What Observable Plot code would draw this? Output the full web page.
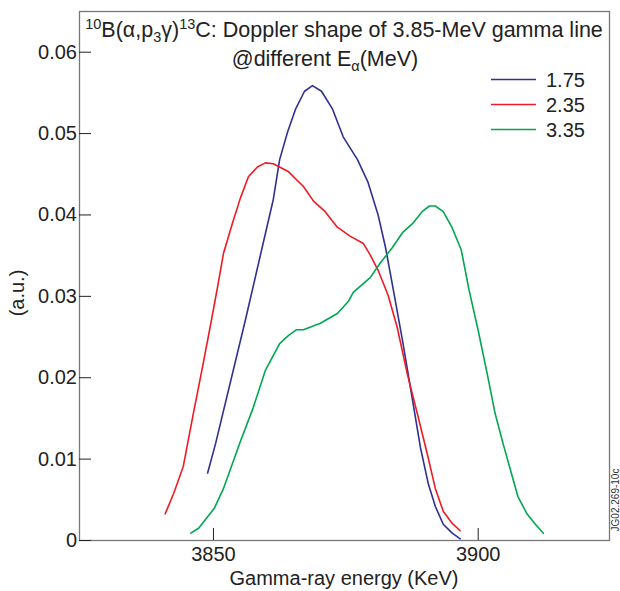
<!DOCTYPE html>
<html>
<head>
<meta charset="utf-8">
<script src="https://cdn.jsdelivr.net/npm/d3@7"></script>
<script src="https://cdn.jsdelivr.net/npm/@observablehq/plot@0.6"></script>
<style>
  html, body { margin: 0; padding: 0; background: #fff; }
  #chart { width: 620px; height: 591px; }
  svg { font-family: "Liberation Sans", Arial, sans-serif; }
</style>
</head>
<body>
<div id="chart"></div>
<script>
// ---- Data ----
const seriesNames = ["1.75", "2.35", "3.35"];
const seriesColors = ["#2e3192", "#ed1c24", "#00a651"];

const energy175 = [3848.9, 3850.4, 3856.0, 3861.3, 3862.5, 3864.0, 3865.5, 3867.2, 3868.7, 3870.4, 3872.5, 3874.5, 3877.2, 3879.2, 3881.1, 3882.5, 3884.0, 3885.7, 3887.2, 3889.1, 3890.6, 3891.9, 3893.4, 3895.1, 3896.6];
const shape175  = [0.0083, 0.0119, 0.0270, 0.0419, 0.0468, 0.0502, 0.0530, 0.0552, 0.0559, 0.0552, 0.0530, 0.0496, 0.0468, 0.0440, 0.0400, 0.0360, 0.0307, 0.0246, 0.0188, 0.0114, 0.0069, 0.0042, 0.0020, 0.0009, 0.0002];

const energy235 = [3840.9, 3842.5, 3844.3, 3846.2, 3847.9, 3849.6, 3850.9, 3851.9, 3853.6, 3855.1, 3856.6, 3858.3, 3859.8, 3861.3, 3864.2, 3867.0, 3868.9, 3871.1, 3873.4, 3875.8, 3878.3, 3879.6, 3881.1, 3883.0, 3884.7, 3886.6, 3888.5, 3890.4, 3891.9, 3893.4, 3895.1, 3896.6];
const shape235  = [0.0033, 0.0058, 0.0091, 0.0156, 0.0212, 0.0270, 0.0316, 0.0353, 0.0390, 0.0421, 0.0447, 0.0459, 0.0464, 0.0463, 0.0453, 0.0435, 0.0417, 0.0404, 0.0385, 0.0374, 0.0365, 0.0351, 0.0332, 0.0301, 0.0262, 0.0205, 0.0156, 0.0106, 0.0064, 0.0036, 0.0021, 0.0012];

const energy335 = [3845.7, 3847.2, 3850.2, 3851.9, 3855.1, 3857.5, 3859.8, 3862.5, 3864.2, 3865.7, 3867.0, 3870.2, 3873.4, 3875.5, 3876.4, 3879.6, 3881.5, 3883.8, 3885.8, 3887.7, 3889.4, 3890.8, 3891.9, 3893.4, 3895.1, 3896.8, 3898.3, 3900.0, 3901.7, 3903.2, 3904.7, 3907.5, 3909.2, 3910.8, 3912.3];
const shape335  = [0.0009, 0.0015, 0.0040, 0.0064, 0.0122, 0.0163, 0.0209, 0.0242, 0.0252, 0.0259, 0.0259, 0.0267, 0.0279, 0.0294, 0.0305, 0.0323, 0.0341, 0.0360, 0.0379, 0.0390, 0.0404, 0.0411, 0.0411, 0.0404, 0.0384, 0.0357, 0.0307, 0.0258, 0.0205, 0.0156, 0.0119, 0.0054, 0.0033, 0.0020, 0.0009];

const xTicks = [3850, 3900];
const yTicks = [0, 0.01, 0.02, 0.03, 0.04, 0.05, 0.06];

const xLabel = "Gamma-ray energy (KeV)";
const yLabel = "(a.u.)";
const creditText = "JG02.269-10c";

// ---- Build table ----
const energies = [energy175, energy235, energy335];
const shapes = [shape175, shape235, shape335];
const rows = seriesNames.flatMap((name, i) =>
  energies[i].map((e, j) => ({series: name, energy: e, value: shapes[i][j]}))
);

const W = 620, H = 591;
const mL = 79, mR = 11, mT = 11, mB = 51;
const frameW = W - mL - mR, frameH = H - mT - mB;
const tickLen = 12;

const chart = Plot.plot({
  width: W,
  height: H,
  marginLeft: mL,
  marginRight: mR,
  marginTop: mT,
  marginBottom: mB,
  style: {fontFamily: "'Liberation Sans', Arial, sans-serif", background: "#fff", color: "#222"},
  x: {domain: [3824.7, 3924.8]},
  y: {domain: [0, 0.065]},
  color: {domain: seriesNames, range: seriesColors},
  marks: [
    Plot.frame({stroke: "#777", strokeWidth: 1.3}),
    Plot.ruleX(xTicks, {stroke: "#222", strokeWidth: 1, insetTop: frameH - tickLen}),
    Plot.ruleY(yTicks, {stroke: "#222", strokeWidth: 1, insetRight: frameW - tickLen}),
    Plot.axisX(xTicks, {tickSize: 0, tickPadding: 6.5, fontSize: 20, label: null, fill: "#222", tickFormat: d => String(d)}),
    Plot.axisY(yTicks, {tickSize: 0, tickPadding: 2.5, fontSize: 20, label: null, fill: "#222", tickFormat: d => d === 0 ? "0" : d.toFixed(2)}),
    Plot.line(rows, {x: "energy", y: "value", z: "series", stroke: "series", strokeWidth: 1.6, curve: "linear"})
  ]
});

document.getElementById("chart").appendChild(chart);

// ---- Titles, legend, labels ----
const svg = d3.select(chart);
const ff = "'Liberation Sans', Arial, sans-serif";

const t1 = svg.append("text")
  .attr("x", 344).attr("y", 37)
  .attr("text-anchor", "middle")
  .attr("font-size", 21.5).attr("font-family", ff).attr("fill", "#222");
t1.append("tspan").attr("font-size", 14.5).attr("dy", -8).text("10");
t1.append("tspan").attr("dy", 8).text("B(α,p");
t1.append("tspan").attr("font-size", 14.5).attr("dy", 5).text("3");
t1.append("tspan").attr("dy", -5).text("γ)");
t1.append("tspan").attr("font-size", 14.5).attr("dy", -8).text("13");
t1.append("tspan").attr("dy", 8).text("C: Doppler shape of 3.85-MeV gamma line");

const t2 = svg.append("text")
  .attr("x", 325).attr("y", 66)
  .attr("text-anchor", "middle")
  .attr("font-size", 21.5).attr("font-family", ff).attr("fill", "#222");
t2.append("tspan").text("@different E");
t2.append("tspan").attr("font-size", 14.5).attr("dy", 5).text("α");
t2.append("tspan").attr("dy", -5).text("(MeV)");

const leg = svg.append("g").attr("font-family", ff).attr("font-size", 20).attr("fill", "#222");
seriesNames.forEach((name, i) => {
  const y = 79.5 + i * 25;
  leg.append("line").attr("x1", 491).attr("x2", 536).attr("y1", y).attr("y2", y)
    .attr("stroke", seriesColors[i]).attr("stroke-width", 1.6);
  leg.append("text").attr("x", 546).attr("y", y).attr("dy", "0.36em")
    .attr("text-anchor", "start").text(name);
});

svg.append("text")
  .attr("x", 344).attr("y", 585)
  .attr("text-anchor", "middle")
  .attr("font-size", 20).attr("font-family", ff).attr("fill", "#222")
  .text(xLabel);

svg.append("text")
  .attr("transform", "translate(24,293) rotate(-90)")
  .attr("text-anchor", "middle")
  .attr("font-size", 20).attr("font-family", ff).attr("fill", "#222")
  .text(yLabel);

svg.append("text")
  .attr("transform", "translate(619,500) rotate(-90)")
  .attr("text-anchor", "middle")
  .attr("font-size", 10).attr("font-family", ff).attr("fill", "#333")
  .text(creditText);
</script>
</body>
</html>
